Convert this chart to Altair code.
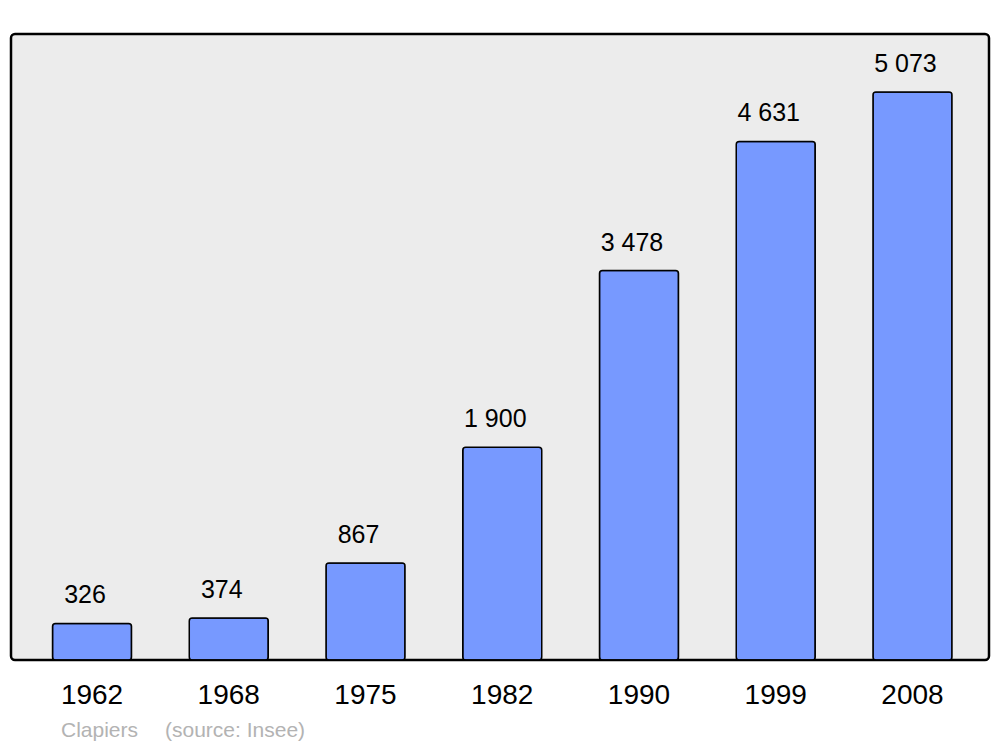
import altair as alt
import pandas as pd

years = ["1962", "1968", "1975", "1982", "1990", "1999", "2008"]
population = [326, 374, 867, 1900, 3478, 4631, 5073]
labels = ["326", "374", "867", "1 900", "3 478", "4 631", "5 073"]

df = pd.DataFrame({"year": years, "pop": population, "label": labels})

FONT = "Liberation Sans"

x = alt.X("year:N", sort=years, title=None,
          scale=alt.Scale(paddingInner=0.4223, paddingOuter=0.3, range=[0.5, 982]),
          axis=alt.Axis(labelAngle=0, labelFontSize=28, labelFont=FONT, labelColor="black",
                        ticks=False, domain=False, labelPadding=21, labelBaseline="top"))
y = alt.Y("pop:Q", scale=alt.Scale(domain=[0, 5590], nice=False, zero=True), axis=None)

bars = alt.Chart(df).mark_bar(fill="#7799ff", stroke="black", strokeWidth=1.5,
                              cornerRadius=3).encode(x=x, y=y)

text = alt.Chart(df).mark_text(font=FONT, fontSize=25, color="black", baseline="alphabetic",
                               dy=-20, dx=-7).encode(x=x, y=y, text="label:N")

src = pd.DataFrame({"t": ["Clapiers", "(source: Insee)"], "px": [50, 154]})
source = alt.Chart(src).mark_text(font=FONT, fontSize=21, color="#b3b3b3", align="left",
                                  baseline="alphabetic").encode(
    x=alt.X("px:Q", scale=None), y=alt.value(703), text="t:N")

chart = alt.layer(bars, text, source).properties(
    width=978, height=626,
    autosize=alt.AutoSizeParams(type="none"),
    padding={"left": 3, "top": 26, "right": 3, "bottom": 86},
    background="white"
).configure_view(fill="#ececec", stroke="black", strokeWidth=2.5, cornerRadius=4)

chart.save("out.html", embed_options={"renderer": "svg", "actions": False})
